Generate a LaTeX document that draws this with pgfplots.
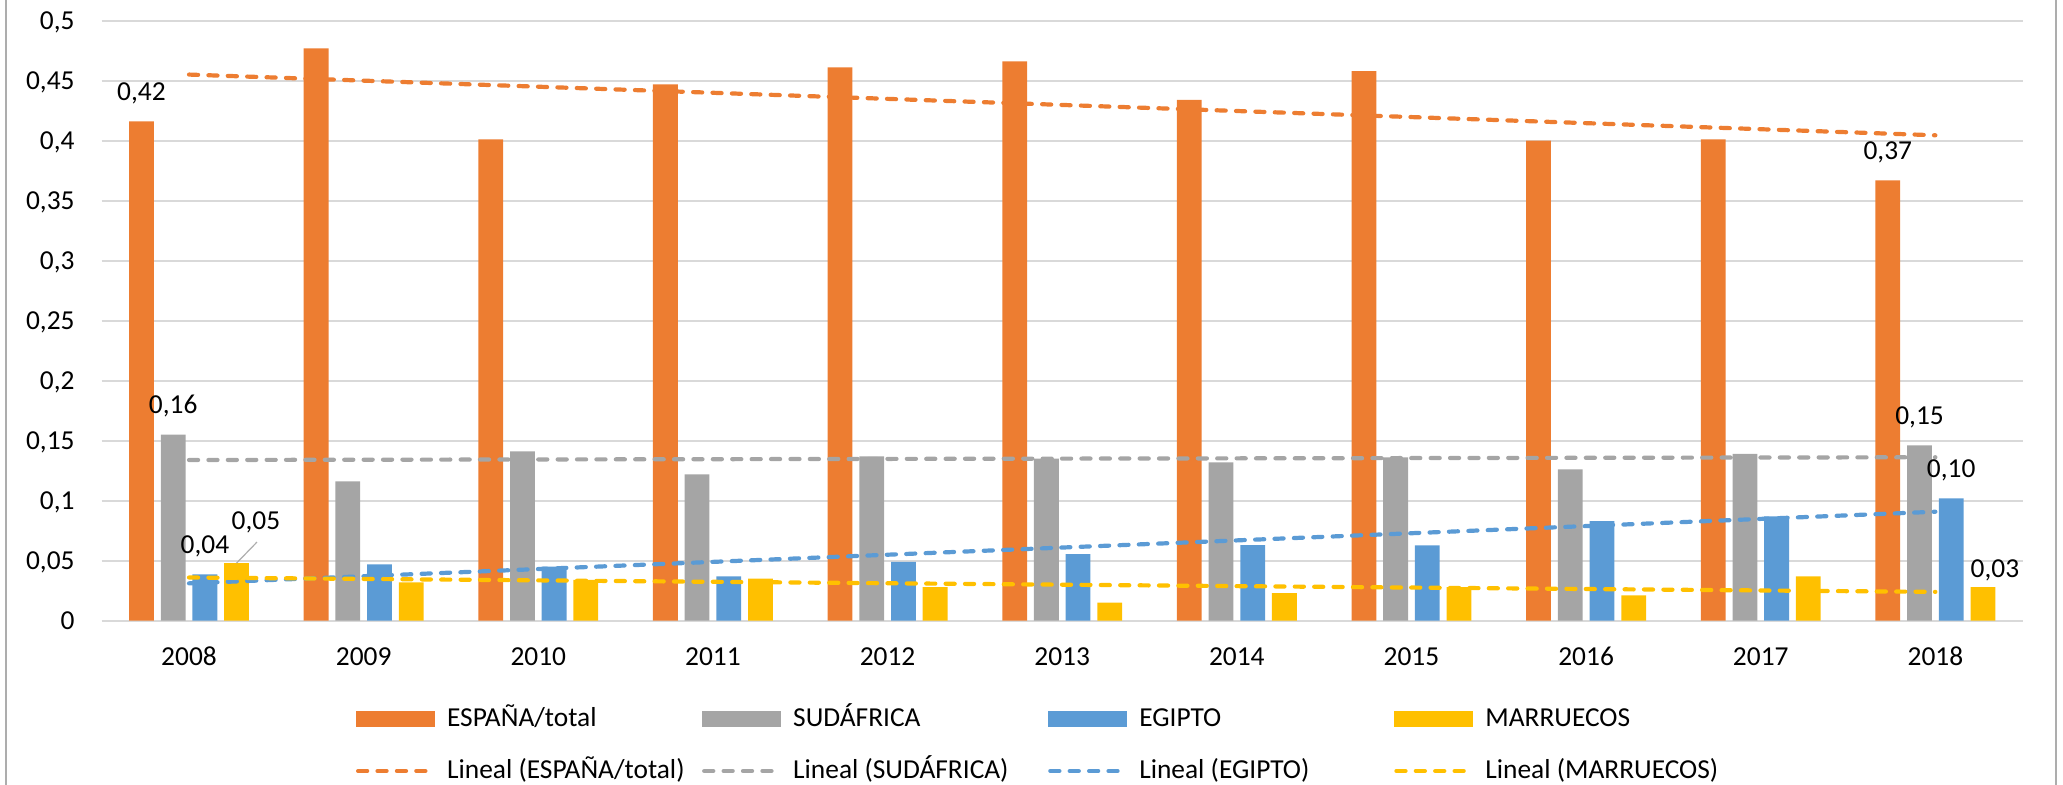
\documentclass[border=0pt]{standalone}
\usepackage{fontspec}
\setmainfont{Carlito}
\usepackage{pgfplots}
\usepackage{pgfplotstable}
\pgfplotsset{compat=1.18}
\definecolor{cOr}{HTML}{ED7D31}
\definecolor{cGr}{HTML}{A5A5A5}
\definecolor{cBl}{HTML}{5B9BD5}
\definecolor{cYe}{HTML}{FFC000}
\definecolor{cGrid}{HTML}{D9D9D9}
\definecolor{cBorder}{HTML}{ADADAD}

\pgfplotstableread{
idx esp sud egi mar lesp lsud legi lmar mdx mdy
0 0.416 0.155 0.0385 0.048 {0,42} {0,16} {0,04} {0,05} 9.7 6.2
1 0.477 0.116 0.047 0.032 {} {} {} {} 0 0
2 0.401 0.141 0.045 0.034 {} {} {} {} 0 0
3 0.447 0.122 0.037 0.035 {} {} {} {} 0 0
4 0.461 0.137 0.049 0.028 {} {} {} {} 0 0
5 0.466 0.135 0.0555 0.015 {} {} {} {} 0 0
6 0.434 0.132 0.063 0.023 {} {} {} {} 0 0
7 0.458 0.136 0.0627 0.028 {} {} {} {} 0 0
8 0.400 0.126 0.083 0.021 {} {} {} {} 0 0
9 0.401 0.139 0.087 0.037 {} {} {} {} 0 0
10 0.367 0.146 0.102 0.028 {0,37} {0,15} {0,10} {0,03} 6 -5.75
}\datatable

\pgfplotstableread{
idx esp sud egi mar
0 0.4551 0.1339 0.0311 0.0360
10 0.4045 0.1362 0.0908 0.0240
}\trendtable

\tikzset{
  trend/.style={line width=2.1pt, line cap=round, dash pattern=on 4.55pt off 5.15pt},
}
\pgfplotsset{
  lbl/.style={every node near coord/.append style={anchor=base, xshift=#1, yshift=10.5pt, inner sep=0pt, text=black}},
}

\begin{document}
\fontsize{13.7}{16}\selectfont
\begin{tikzpicture}
\useasboundingbox (-50.85pt,-82.15pt) rectangle (980.65pt,310.35pt);
\begin{axis}[
  at={(0pt,0pt)}, anchor=south west,
  scale only axis, width=960.5pt, height=300pt,
  xmin=-0.5, xmax=10.5, ymin=0, ymax=0.5,
  xtick={0,1,2,3,4,5,6,7,8,9,10},
  xticklabels={2008,2009,2010,2011,2012,2013,2014,2015,2016,2017,2018},
  ytick={0,0.05,0.1,0.15,0.2,0.25,0.3,0.35,0.4,0.45,0.5},
  /pgf/number format/use comma,
  /pgf/number format/fixed,
  /pgf/number format/precision=2,
  /pgf/number format/assume math mode=true,
  ymajorgrids, grid style={cGrid, line width=0.9pt},
  axis line style={draw=none},
  major tick length=0pt,
  x tick label style={anchor=center, yshift=-18pt},
  y tick label style={anchor=base east, inner sep=0pt, xshift=-13.35pt, yshift=-4.33pt},
  clip=false,
  legend columns=4,
  legend style={at={(0.13238,-0.14333)}, anchor=north west, draw=none, fill=none,
    inner sep=0pt, outer sep=0pt, row sep=13.15pt, column sep=0pt,
    cells={anchor=base west},
    nodes={inner sep=0pt, text height=10pt, text depth=3pt}},
]
\addplot[ybar, bar width=12.4pt, bar shift=-23.775pt, fill=cOr, draw=none,
  nodes near coords, point meta=explicit symbolic, lbl=-23.775pt,
  legend image code/.code={\fill[cOr] (0pt,0pt) rectangle (39.5pt,7.8pt); \path (44.5pt,0pt);}]
  table[x=idx, y=esp, meta=lesp] {\datatable};
\addlegendentry{\makebox[127.5pt][l]{ESPAÑA/total}}
\addplot[ybar, bar width=12.4pt, bar shift=-7.925pt, fill=cGr, draw=none,
  nodes near coords, point meta=explicit symbolic, lbl=-7.925pt,
  legend image code/.code={\fill[cGr] (0pt,0pt) rectangle (39.5pt,7.8pt); \path (44.5pt,0pt);}]
  table[x=idx, y=sud, meta=lsud] {\datatable};
\addlegendentry{\makebox[127.5pt][l]{SUDÁFRICA}}
\addplot[ybar, bar width=12.4pt, bar shift=7.925pt, fill=cBl, draw=none,
  nodes near coords, point meta=explicit symbolic, lbl=7.925pt,
  legend image code/.code={\fill[cBl] (0pt,0pt) rectangle (39.5pt,7.8pt); \path (44.5pt,0pt);}]
  table[x=idx, y=egi, meta=legi] {\datatable};
\addlegendentry{\makebox[127.5pt][l]{EGIPTO}}
\addplot[ybar, bar width=12.4pt, bar shift=23.775pt, fill=cYe, draw=none,
  nodes near coords, point meta=explicit symbolic, lbl=23.775pt,
  visualization depends on={\thisrow{mdx}\as\mdx},
  visualization depends on={\thisrow{mdy}\as\mdy},
  every node near coord/.append style={xshift=\mdx pt, yshift=\mdy pt},
  legend image code/.code={\fill[cYe] (0pt,0pt) rectangle (39.5pt,7.8pt); \path (44.5pt,0pt);}]
  table[x=idx, y=mar, meta=lmar] {\datatable};
\addlegendentry{\makebox[127.5pt][l]{MARRUECOS}}

\addplot[sharp plot, no marks, cOr, trend,
  legend image code/.code={\draw[cOr, trend] (1.05pt,4pt) -- (38.45pt,4pt); \path (44.5pt,0pt);}]
  table[x=idx, y=esp] {\trendtable};
\addlegendentry{\makebox[127.5pt][l]{Lineal (ESPAÑA/total)}}
\addplot[sharp plot, no marks, cGr, trend,
  legend image code/.code={\draw[cGr, trend] (1.05pt,4pt) -- (38.45pt,4pt); \path (44.5pt,0pt);}]
  table[x=idx, y=sud] {\trendtable};
\addlegendentry{\makebox[127.5pt][l]{Lineal (SUDÁFRICA)}}
\addplot[sharp plot, no marks, cBl, trend,
  legend image code/.code={\draw[cBl, trend] (1.05pt,4pt) -- (38.45pt,4pt); \path (44.5pt,0pt);}]
  table[x=idx, y=egi] {\trendtable};
\addlegendentry{\makebox[127.5pt][l]{Lineal (EGIPTO)}}
\addplot[sharp plot, no marks, cYe, trend,
  legend image code/.code={\draw[cYe, trend] (1.05pt,4pt) -- (38.45pt,4pt); \path (44.5pt,0pt);}]
  table[x=idx, y=mar] {\trendtable};
\addlegendentry{\makebox[127.5pt][l]{Lineal (MARRUECOS)}}

\draw[cBorder, line width=0.6pt] ([xshift=23.775pt]axis cs:0,0.048) -- ++(10.2pt,10.5pt);
\end{axis}
\draw[cBorder, line width=1pt] (-48pt,-82.15pt) -- (-48pt,310.35pt);
\draw[cBorder, line width=1pt] (977.15pt,-82.15pt) -- (977.15pt,310.35pt);
\end{tikzpicture}
\end{document}
